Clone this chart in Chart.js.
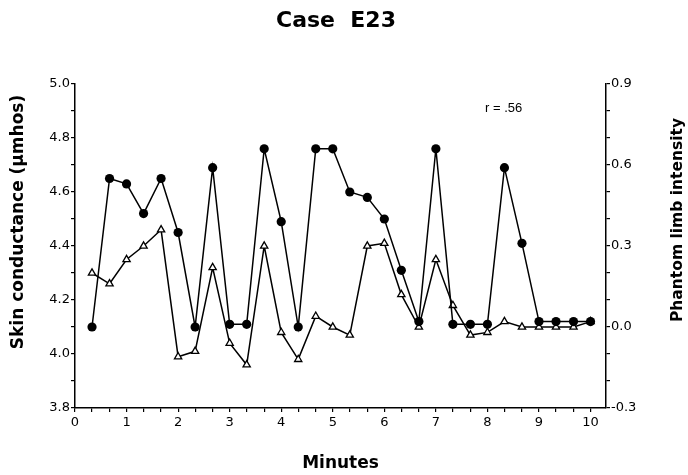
<!DOCTYPE html>
<html>
<head>
<meta charset="utf-8">
<title>Case E23</title>
<script src="https://cdn.jsdelivr.net/npm/chart.js@4.4.1/dist/chart.umd.min.js"></script>
<style>
  html, body { margin: 0; padding: 0; background: #fff; }
  #wrap { width: 688px; height: 475px; }
</style>
</head>
<body>
<div id="wrap"><canvas id="chart" width="688" height="475"></canvas></div>
<script>
// readings every 20 seconds
const minutes = [0.33, 0.67, 1.0, 1.33, 1.67, 2.0, 2.33, 2.67, 3.0, 3.33,
                 3.67, 4.0, 4.33, 4.67, 5.0, 5.33, 5.67, 6.0, 6.33, 6.67,
                 7.0, 7.33, 7.67, 8.0, 8.33, 8.67, 9.0, 9.33, 9.67, 10.0];

// filled circles, left axis (µmhos)
const skinConductance = [4.10, 4.65, 4.63, 4.52, 4.65, 4.45, 4.10, 4.69, 4.11, 4.11,
                         4.76, 4.49, 4.10, 4.76, 4.76, 4.60, 4.58, 4.50, 4.31, 4.12,
                         4.76, 4.11, 4.11, 4.11, 4.69, 4.41, 4.12, 4.12, 4.12, 4.12];

// open triangles, right axis
const phantomIntensity = [0.20, 0.16, 0.25, 0.30, 0.36, -0.11, -0.09, 0.22, -0.06, -0.14,
                          0.30, -0.02, -0.12, 0.04, 0.00, -0.03, 0.30, 0.31, 0.12, 0.00,
                          0.25, 0.08, -0.03, -0.02, 0.02, 0.00, 0.00, 0.00, 0.00, 0.02];

const minuteTicks = [0, 0.33, 0.67, 1, 1.33, 1.67, 2, 2.33, 2.67, 3, 3.33, 3.67, 4, 4.33, 4.67,
                     5, 5.33, 5.67, 6, 6.33, 6.67, 7, 7.33, 7.67, 8, 8.33, 8.67, 9, 9.33, 9.67, 10];
const minuteLabels = [0, 1, 2, 3, 4, 5, 6, 7, 8, 9, 10];

const conductanceTicks = [3.8, 3.9, 4.0, 4.1, 4.2, 4.3, 4.4, 4.5, 4.6, 4.7, 4.8, 4.9, 5.0];
const conductanceLabels = [3.8, 4.0, 4.2, 4.4, 4.6, 4.8, 5.0];

const intensityTicks = [-0.3, -0.2, -0.1, 0.0, 0.1, 0.2, 0.3, 0.4, 0.5, 0.6, 0.7, 0.8, 0.9];
const intensityLabels = [-0.3, 0.0, 0.3, 0.6, 0.9];

function hasValue(list, v) {
    return list.some(function (l) { return Math.abs(l - v) < 1e-6; });
}

function toPoints(ys) {
    return minutes.map(function (m, i) { return { x: m, y: ys[i] }; });
}

Chart.defaults.font.family = "'DejaVu Sans', sans-serif";
Chart.defaults.color = '#000';

// side titles read bottom-to-top on both sides, plus the r value
const sideText = {
    id: 'sideText',
    afterDraw(chart) {
        let ctx = chart.ctx;
        ctx.save();
        ctx.fillStyle = '#000';
        ctx.textAlign = 'center';
        ctx.textBaseline = 'middle';

        ctx.font = "bold 17px 'DejaVu Sans'";
        ctx.translate(19, 222);
        ctx.rotate(-Math.PI / 2);
        ctx.fillText('Skin conductance (\u03BCmhos)', 0, 0);
        ctx.setTransform(1, 0, 0, 1, 0, 0);

        ctx.font = "bold 15.5px 'DejaVu Sans'";
        ctx.translate(678, 220);
        ctx.rotate(-Math.PI / 2);
        ctx.fillText('Phantom limb intensity', 0, 0);
        ctx.setTransform(1, 0, 0, 1, 0, 0);

        ctx.font = "13px 'Liberation Sans'";
        ctx.textAlign = 'left';
        ctx.fillText('r = .56', 485, 108);
        ctx.restore();
    }
};

const axisGrid = {
    drawOnChartArea: false,
    drawTicks: true,
    tickLength: 4,
    color: '#000',
    lineWidth: 1.2
};
const axisBorder = { display: true, color: '#000', width: 1.5 };

let ctx = document.getElementById('chart').getContext('2d');
let chart = new Chart(ctx, {
    type: 'line',
    data: {
        datasets: [
            {
                label: 'Skin conductance',
                data: toPoints(skinConductance),
                yAxisID: 'y',
                borderColor: '#000',
                borderWidth: 1.5,
                pointStyle: 'circle',
                pointRadius: 4.6,
                pointBackgroundColor: '#000',
                pointBorderColor: '#000',
                pointBorderWidth: 0,
                tension: 0,
                clip: false
            },
            {
                label: 'Phantom limb intensity',
                data: toPoints(phantomIntensity),
                yAxisID: 'y2',
                borderColor: '#000',
                borderWidth: 1.5,
                pointStyle: 'triangle',
                pointRadius: 4.2,
                pointBackgroundColor: '#fff',
                pointBorderColor: '#000',
                pointBorderWidth: 1.3,
                tension: 0,
                clip: false
            }
        ]
    },
    options: {
        responsive: false,
        animation: false,
        devicePixelRatio: 1,
        layout: { padding: { left: 0, right: 16, top: 0, bottom: 0 } },
        plugins: {
            legend: { display: false },
            tooltip: { enabled: false },
            title: {
                display: true,
                text: 'Case  E23',
                color: '#000',
                font: { size: 22, weight: 'bold' },
                padding: { top: 8, bottom: 49.6 }
            }
        },
        scales: {
            x: {
                type: 'linear',
                min: 0,
                max: 10.3,
                afterFit(scale) { scale.height = 67; },
                afterBuildTicks(scale) {
                    scale.ticks = minuteTicks.map(function (v) { return { value: v }; });
                },
                ticks: {
                    autoSkip: false,
                    maxRotation: 0,
                    padding: 3,
                    font: { size: 13 },
                    callback: function (v) { return hasValue(minuteLabels, v) ? String(Math.round(v)) : ''; }
                },
                grid: axisGrid,
                border: axisBorder,
                title: {
                    display: true,
                    text: 'Minutes',
                    font: { size: 17, weight: 'bold' },
                    padding: { top: 0, bottom: 1 }
                }
            },
            y: {
                type: 'linear',
                position: 'left',
                min: 3.8,
                max: 5.0,
                afterFit(scale) { scale.width = 75; },
                afterBuildTicks(scale) {
                    scale.ticks = conductanceTicks.map(function (v) { return { value: v }; });
                },
                ticks: {
                    autoSkip: false,
                    padding: 1,
                    font: { size: 13 },
                    callback: function (v) { return hasValue(conductanceLabels, v) ? v.toFixed(1) : ''; }
                },
                grid: axisGrid,
                border: axisBorder
            },
            y2: {
                type: 'linear',
                position: 'right',
                min: -0.3,
                max: 0.9,
                afterFit(scale) { scale.width = 66; },
                afterBuildTicks(scale) {
                    scale.ticks = intensityTicks.map(function (v) { return { value: v }; });
                },
                ticks: {
                    autoSkip: false,
                    padding: 1,
                    font: { size: 13 },
                    callback: function (v) { return hasValue(intensityLabels, v) ? v.toFixed(1) : ''; }
                },
                grid: axisGrid,
                border: axisBorder
            }
        }
    },
    plugins: [sideText]
});
</script>
</body>
</html>
